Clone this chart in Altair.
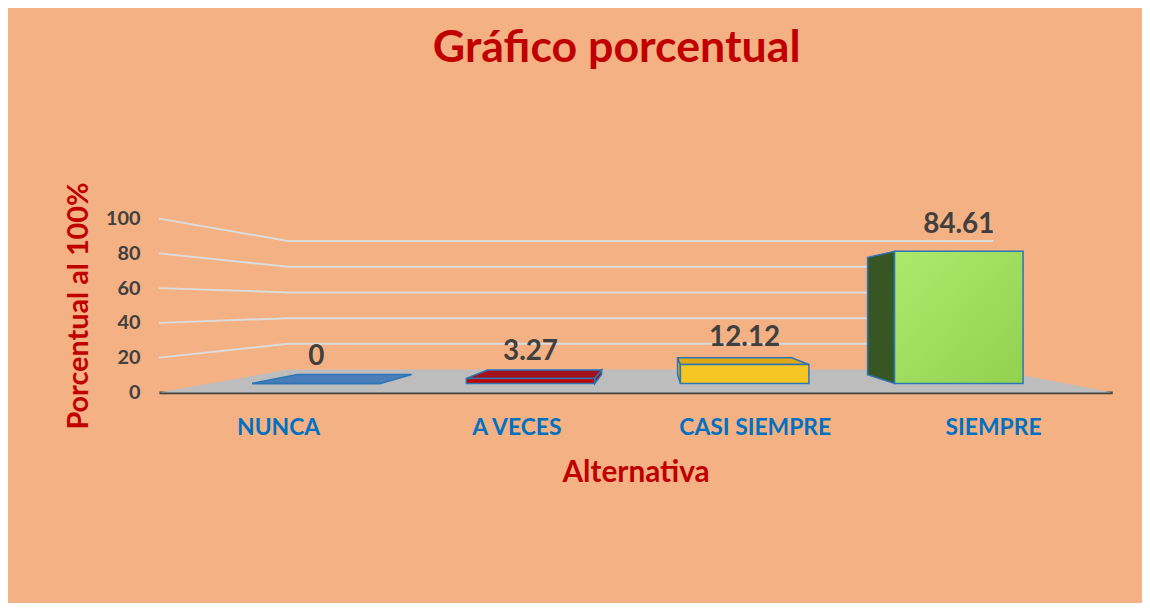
import altair as alt
import pandas as pd

# ---- data ----
categories = ["NUNCA", "A VECES", "CASI SIEMPRE", "SIEMPRE"]
values = [0, 3.27, 12.12, 84.61]
value_labels = ["0", "3.27", "12.12", "84.61"]
y_ticks = [0, 20, 40, 60, 80, 100]

# ---- styling ----
front_colors = ["#4F81BD", "#C00000", "#F6C623", "#9EDC5C"]
top_colors = ["#4A7EBB", "#A3121C", "#DFA817", "#7FB842"]
side_colors = ["#3E6EA8", "#8E0E16", "#E0AE18", "#375623"]
OUTLINE = "#2E75B6"
BG = "#F4B183"
FONT = "Lato"

# simple perspective: depth d in [0 (front), 1 (back)] shrinks toward a vanishing point
K, CX, CY = 0.26, 2.083, 50.5
D0, D1, HALF = 0.39, 0.78, 0.30
NCAT = len(categories)


def px(u, d):
    return u * (1 - K * d) + CX * K * d


def py(v, d):
    return v * (1 - K * d) + CY * K * d


front_rows, side_rows, top_rows, label_rows = [], [], [], []
for i, (c, v, lab) in enumerate(zip(categories, values, value_labels)):
    center = i + 0.5
    uL, uR = center - HALF, center + HALF
    front_rows.append(dict(cat=c, x=px(uL, D0), x2=px(uR, D0), y=py(0, D0), y2=py(v, D0)))
    if v > 0:
        us = uL if center > CX else uR
        for d in (D0, D1):
            side_rows.append(dict(cat=c, x=px(us, d), y=py(v, d), y2=py(0, d)))
    if v < CY:
        for d in (D0, D1):
            top_rows.append(dict(cat=c, y=py(v, d), x=px(uL, d), x2=px(uR, d)))
    label_rows.append(dict(cat=c, label=lab, x=px(center, D0), y=py(v, D0)))

floor_rows = [
    dict(y=py(0, 0), x=px(0, 0), x2=px(NCAT, 0)),
    dict(y=py(0, 1), x=px(0, 1), x2=px(NCAT, 1)),
]
grid_rows = []
for t in y_ticks[1:]:
    for k, (u, d) in enumerate([(0, 0), (0, 1), (NCAT, 1)]):
        grid_rows.append(dict(tick=t, order=k, x=px(u, d), y=py(t, d)))

xscale = alt.Scale(domain=[0, NCAT], nice=False, zero=False)
yscale = alt.Scale(domain=[0, 100], nice=False)
label_expr = "[" + ",".join("'%s'" % c for c in categories) + "][floor(datum.value)]"
xaxis = alt.Axis(
    values=[i + 0.5 for i in range(NCAT)], labelExpr=label_expr, title="Alternativa",
    grid=False, ticks=False, domainColor="#404040", domainWidth=3,
    labelFont=FONT, labelFontSize=23, labelFontWeight="bold", labelColor="#0070C0",
    labelPadding=24, titleFont=FONT, titleFontSize=30, titleFontWeight="bold",
    titleColor="#C00000", titlePadding=19,
)
yaxis = alt.Axis(
    values=y_ticks, title="Porcentual al 100%", grid=False, ticks=False, domain=False,
    labelFont=FONT, labelFontSize=20, labelFontWeight="bold", labelColor="#404040",
    labelPadding=19, titleFont=FONT, titleFontSize=29, titleFontWeight="bold",
    titleColor="#C00000", titlePadding=12,
)


def X(f="x"):
    return alt.X(f, type="quantitative", scale=xscale, axis=xaxis)


def Y(f="y"):
    return alt.Y(f, type="quantitative", scale=yscale, axis=yaxis)


def col(colors):
    return alt.Color("cat:N", scale=alt.Scale(domain=categories, range=colors), legend=None)


floor = alt.Chart(pd.DataFrame(floor_rows)).mark_area(
    orient="horizontal", color="#BDBDBD"
).encode(y=Y(), x=X(), x2="x2")

grid = alt.Chart(pd.DataFrame(grid_rows)).mark_line(
    color="#DCDCDC", strokeWidth=2
).encode(x=X(), y=Y(), detail="tick:N", order="order:Q")

side = alt.Chart(pd.DataFrame(side_rows)).mark_area(
    stroke=OUTLINE, strokeWidth=1.5, opacity=1
).encode(x=X(), y=Y(), y2="y2", color=col(side_colors), detail="cat:N")

top = alt.Chart(pd.DataFrame(top_rows)).mark_area(
    orient="horizontal", stroke=OUTLINE, strokeWidth=1.5, opacity=1
).encode(y=Y(), x=X(), x2="x2", color=col(top_colors), detail="cat:N")

front_df = pd.DataFrame(front_rows)
front = alt.Chart(front_df).mark_rect(stroke=OUTLINE, strokeWidth=1.5, opacity=1).encode(
    x=X(), x2="x2", y=Y(), y2="y2", color=col(front_colors)
).transform_filter(alt.datum.cat != categories[-1])

front_last = alt.Chart(front_df).mark_rect(
    stroke=OUTLINE, strokeWidth=1.5,
    fill=alt.Gradient(
        gradient="linear",
        stops=[alt.GradientStop(color="#ACEA6D", offset=0),
               alt.GradientStop(color="#92D050", offset=1)],
        x1=0, y1=0, x2=1, y2=1,
    ),
).encode(x=X(), x2="x2", y=Y(), y2="y2").transform_filter(alt.datum.cat == categories[-1])

labels = alt.Chart(pd.DataFrame(label_rows)).mark_text(
    font=FONT, fontSize=28, fontWeight="bold", color="#404040", baseline="alphabetic", dy=-19
).encode(x=X(), y=Y(), text="label:N")

chart = alt.layer(floor, grid, side, top, front, front_last, labels).resolve_scale(
    color="independent"
).properties(
    width=960,
    height=175,
    background=BG,
    padding={"left": 152, "top": 210, "right": 30, "bottom": 210},
    autosize=alt.AutoSizeParams(type="none"),
    title=alt.TitleParams(
        "Gráfico porcentual", font=FONT, fontSize=45, fontWeight="bold",
        color="#C00000", anchor="middle", dx=-19, baseline="alphabetic", offset=76,
    ),
).configure_view(stroke=None)

chart.save("out.html", embed_options={"renderer": "svg", "actions": False})
